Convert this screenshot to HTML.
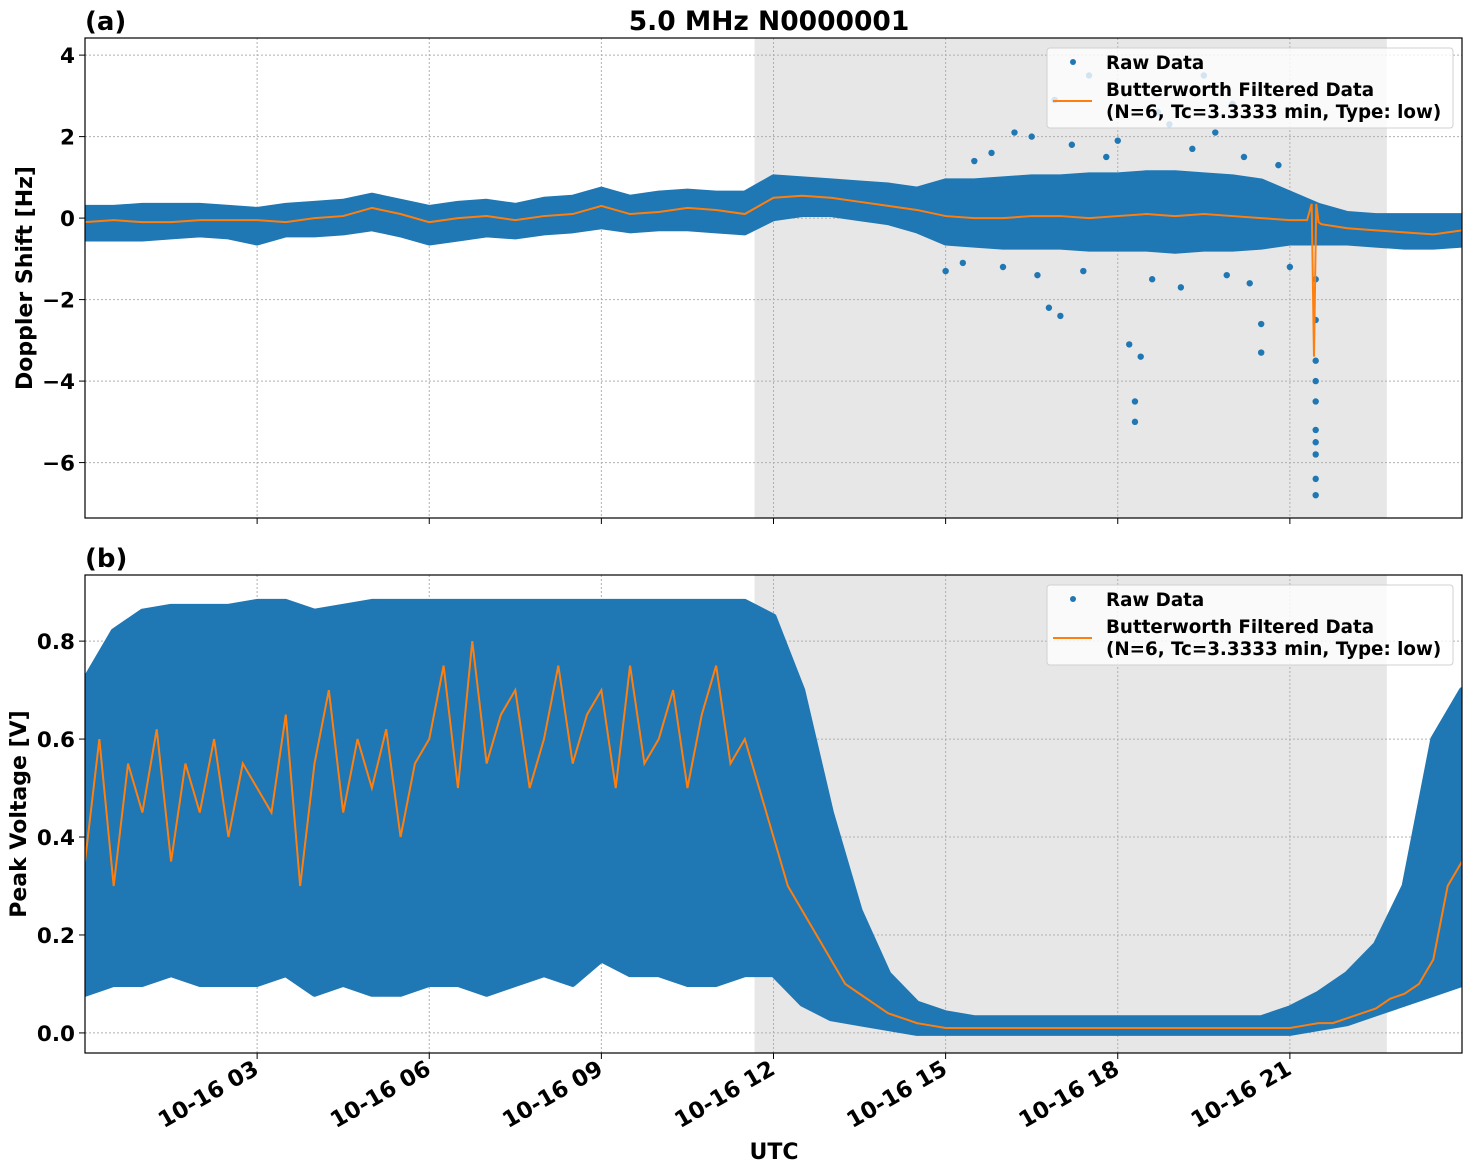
<!DOCTYPE html>
<html><head><meta charset="utf-8"><style>
html,body{margin:0;padding:0;background:#fff}
svg{display:block;font-family:"DejaVu Sans","Liberation Sans",sans-serif;font-weight:bold}
</style></head><body>
<svg id="c" width="1472" height="1172" viewBox="0 0 1472 1172"></svg>
<script>
const tickHours=[3,6,9,12,15,18,21];
const tickLabels=["10-16 03","10-16 06","10-16 09","10-16 12","10-16 15","10-16 18","10-16 21"];
const shadeStart=11.67, shadeEnd=22.69;
const aTicks=[4,2,0,-2,-4,-6];
const aTickLabels=["4","2","0","\u22122","\u22124","\u22126"];
const bTicks=[0,0.2,0.4,0.6,0.8];
const bTickLabels=["0.0","0.2","0.4","0.6","0.8"];
const aFilt=[-0.1,-0.05,-0.1,-0.1,-0.05,-0.05,-0.05,-0.1,0.0,0.05,0.25,0.1,-0.1,0.0,0.05,-0.05,0.05,0.1,0.3,0.1,0.15,0.25,0.2,0.1,0.5,0.55,0.5,0.4,0.3,0.2,0.05,0.0,0.0,0.05,0.05,0.0,0.05,0.1,0.05,0.1,0.05,0.0,-0.05,-0.1,-0.25,-0.3,-0.35,-0.4,-0.3];
const aLow=[-0.5,-0.5,-0.5,-0.45,-0.4,-0.45,-0.6,-0.4,-0.4,-0.35,-0.25,-0.4,-0.6,-0.5,-0.4,-0.45,-0.35,-0.3,-0.2,-0.3,-0.25,-0.25,-0.3,-0.35,0.0,0.1,0.1,0.0,-0.1,-0.3,-0.6,-0.65,-0.7,-0.7,-0.7,-0.75,-0.75,-0.75,-0.8,-0.75,-0.75,-0.7,-0.6,-0.6,-0.6,-0.65,-0.7,-0.7,-0.65];
const aHigh=[0.25,0.25,0.3,0.3,0.3,0.25,0.2,0.3,0.35,0.4,0.55,0.4,0.25,0.35,0.4,0.3,0.45,0.5,0.7,0.5,0.6,0.65,0.6,0.6,1.0,0.95,0.9,0.85,0.8,0.7,0.9,0.9,0.95,1.0,1.0,1.05,1.05,1.1,1.1,1.05,1.0,0.9,0.6,0.3,0.1,0.05,0.05,0.05,0.05];
const aOutX=[16.9,17.0,16.8,17.5,18.2,18.3,18.3,18.4,18.7,19.5,20.0,20.5,20.5,15.0,16.2,19.1,15.5,15.8,16.5,17.2,17.8,18.0,18.9,19.3,19.7,20.2,20.8,15.3,16.0,16.6,17.4,18.6,19.9,20.3,21.0,
21.45,21.45,21.45,21.45,21.45,21.45,21.45,21.45,21.45,21.45];
const aOutY=[2.9,-2.4,-2.2,3.5,-3.1,-5.0,-4.5,-3.4,2.6,3.5,2.8,-3.3,-2.6,-1.3,2.1,-1.7,1.4,1.6,2.0,1.8,1.5,1.9,2.3,1.7,2.1,1.5,1.3,-1.1,-1.2,-1.4,-1.3,-1.5,-1.4,-1.6,-1.2,
-1.5,-2.5,-3.5,-4.0,-4.5,-5.2,-5.5,-5.8,-6.4,-6.8];
const aSpikeX=[21.3,21.38,21.42,21.46,21.5,21.55];
const aSpikeY=[-0.05,0.35,-3.4,0.35,-0.1,-0.15];
const bLow=[0.08,0.1,0.1,0.12,0.1,0.1,0.1,0.12,0.08,0.1,0.08,0.08,0.1,0.1,0.08,0.1,0.12,0.1,0.15,0.12,0.12,0.1,0.1,0.12,0.12,0.06,0.03,0.02,0.01,0.0,0,0,0,0,0,0,0,0,0,0,0,0,0,0.01,0.02,0.04,0.06,0.08,0.1];
const bHigh=[0.72,0.82,0.86,0.87,0.87,0.87,0.88,0.88,0.86,0.87,0.88,0.88,0.88,0.88,0.88,0.88,0.88,0.88,0.88,0.88,0.88,0.88,0.88,0.88,0.85,0.7,0.45,0.25,0.12,0.06,0.04,0.03,0.03,0.03,0.03,0.03,0.03,0.03,0.03,0.03,0.03,0.03,0.05,0.08,0.12,0.18,0.3,0.6,0.7];
const bFilt=[0.35,0.6,0.3,0.55,0.45,0.62,0.35,0.55,0.45,0.6,0.4,0.55,
0.5,0.45,0.65,0.3,0.55,0.7,0.45,0.6,0.5,0.62,0.4,0.55,
0.6,0.75,0.5,0.8,0.55,0.65,0.7,0.5,0.6,0.75,0.55,0.65,
0.7,0.5,0.75,0.55,0.6,0.7,0.5,0.65,0.75,0.55,0.6,0.5,
0.4,0.3,0.25,0.2,0.15,0.1,0.08,0.06,0.04,0.03,0.02,0.015,
0.01,0.01,0.01,0.01,0.01,0.01,0.01,0.01,0.01,0.01,0.01,0.01,0.01,0.01,0.01,0.01,0.01,0.01,0.01,0.01,0.01,0.01,0.01,0.01,
0.01,0.015,0.02,0.02,0.03,0.04,0.05,0.07,0.08,0.1,0.15,0.3,0.35];

const NS="http://www.w3.org/2000/svg";
const svg=document.getElementById('c');
function mk(tag,attrs,parent){const e=document.createElementNS(NS,tag);for(const k in attrs)e.setAttribute(k,attrs[k]);(parent||svg).appendChild(e);return e;}
const X0=85,X1=1462;
const xs=h=>X0+(h/24)*(X1-X0);
const BLUE="#1f77b4",ORANGE="#ff7f0e";
const defs=mk('defs',{});

function panel(o){
  const g=mk('g',{});
  
  
  const ys=v=>o.top+(o.ymax-v)/(o.ymax-o.ymin)*(o.bot-o.top);
  const cp=mk('clipPath',{id:o.name+'-clip'},defs);
  mk('rect',{x:X0,y:o.top,width:X1-X0,height:o.bot-o.top},cp);
  const sh=mk('rect',{x:xs(shadeStart),y:o.top,width:xs(shadeEnd)-xs(shadeStart),height:o.bot-o.top,fill:"#e7e7e7"},g);
  
  
  tickHours.forEach(h=>{const l=mk('line',{x1:xs(h),x2:xs(h),y1:o.top,y2:o.bot,stroke:"#b0b0b0","stroke-dasharray":"2,2","stroke-width":1},g);
    });
  o.ticks.forEach(v=>{const l=mk('line',{x1:X0,x2:X1,y1:ys(v),y2:ys(v),stroke:"#b0b0b0","stroke-dasharray":"2,2","stroke-width":1},g);
    });
  const dg=mk('g',{"clip-path":`url(#${o.name}-clip)`},g);
  const step=24/(o.low.length-1);
  let pts=[];
  o.high.forEach((v,i)=>pts.push(xs(i*step)+','+ys(v)));
  for(let i=o.low.length-1;i>=0;i--)pts.push(xs(i*step)+','+ys(o.low[i]));
  const band=mk('polygon',{points:pts.join(' '),fill:BLUE,stroke:BLUE,"stroke-width":6,"stroke-linejoin":"round"},dg);
  
  
  if(o.outX){o.outX.forEach((hx,i)=>{const c=mk('circle',{cx:xs(hx),cy:ys(o.outY[i]),r:3.2,fill:BLUE},dg);
    });}
  const fs=24/(o.filt.length-1);
  let fp=o.filt.map((v,i)=>[i*fs,v]);
  if(o.spX){fp=fp.filter(p=>p[0]<o.spX[0]||p[0]>o.spX[o.spX.length-1]);o.spX.forEach((x,i)=>fp.push([x,o.spY[i]]));fp.sort((a,b)=>a[0]-b[0]);}
  const fl=mk('polyline',{points:fp.map(p=>xs(p[0])+','+ys(p[1])).join(' '),fill:"none",stroke:ORANGE,"stroke-width":2},dg);
  
  
  const fr=mk('rect',{x:X0,y:o.top,width:X1-X0,height:o.bot-o.top,fill:"none",stroke:"#000","stroke-width":1.2},g);
  
  o.ticks.forEach((v,i)=>{mk('line',{x1:X0-6,x2:X0,y1:ys(v),y2:ys(v),stroke:"#000"},g);
    const t=mk('text',{x:X0-10,y:ys(v)+8,"text-anchor":"end","font-size":21.5},g);t.textContent=o.tl[i];
    });
  tickHours.forEach(h=>mk('line',{x1:xs(h),x2:xs(h),y1:o.bot,y2:o.bot+6,stroke:"#000"},g));
  const yl=mk('text',{x:0,y:0,"text-anchor":"middle","font-size":o.ylfs,transform:`translate(${o.ylx},${(o.top+o.bot)/2}) rotate(-90)`},g);
  yl.textContent=o.ylabel;
  const pl=mk('text',{x:85,y:o.top-8,"font-size":26},g);pl.textContent=o.label;
  
  const lg=mk('g',{},g);
  const ly=o.top+10;
  mk('rect',{x:1047,y:ly,width:406,height:80,rx:3,fill:"#fff","fill-opacity":0.8,stroke:"#d0d0d0"},lg);
  mk('circle',{cx:1073,cy:ly+14,r:3,fill:BLUE},lg);
  const t1=mk('text',{x:1106,y:ly+21,"font-size":18.3},lg);t1.textContent="Raw Data";
  
  mk('line',{x1:1053,x2:1092,y1:ly+53,y2:ly+53,stroke:ORANGE,"stroke-width":2},lg);
  const t2=mk('text',{x:1106,y:ly+48,"font-size":18.3},lg);t2.textContent="Butterworth Filtered Data";
  
  const t3=mk('text',{x:1106,y:ly+70,"font-size":18.3},lg);t3.textContent="(N=6, Tc=3.3333 min, Type: low)";
  
}
panel({name:'doppler-panel',top:38,bot:518,ymin:-7.36,ymax:4.42,ticks:aTicks,tl:aTickLabels,low:aLow,high:aHigh,filt:aFilt,outX:aOutX,outY:aOutY,spX:aSpikeX,spY:aSpikeY,ylabel:"Doppler Shift [Hz]",ylx:32,ylfs:22,label:"(a)"});
panel({name:'voltage-panel',top:575,bot:1053,ymin:-0.041,ymax:0.935,ticks:bTicks,tl:bTickLabels,low:bLow,high:bHigh,filt:bFilt,ylabel:"Peak Voltage [V]",ylx:26,ylfs:22,label:"(b)"});
tickHours.forEach((h,i)=>{const t=mk('text',{x:0,y:0,"text-anchor":"end","font-size":22.5,transform:`translate(${xs(h)+3},${1073}) rotate(-30)`});
  t.textContent=tickLabels[i];
  
  });
const ti=mk('text',{x:769,y:30,"text-anchor":"middle","font-size":26.5});ti.textContent="5.0 MHz N0000001";


const xt=mk('text',{x:774,y:1159,"text-anchor":"middle","font-size":22});xt.textContent="UTC";


</script>
</body></html>
